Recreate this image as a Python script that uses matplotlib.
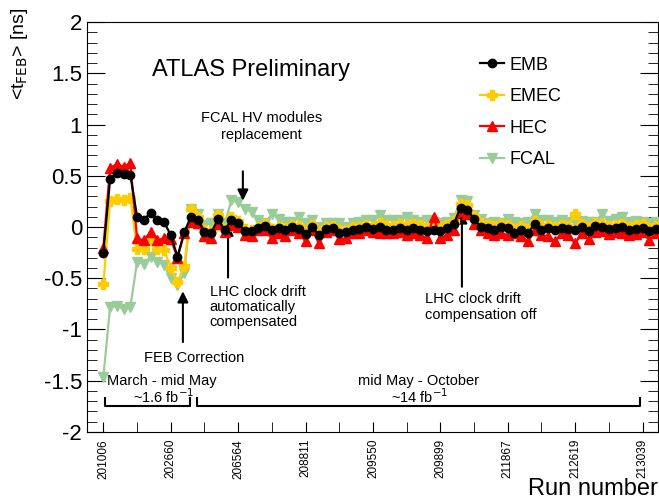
import numpy as np
import matplotlib
matplotlib.use("Agg")
from matplotlib import pyplot as plt

plt.rcParams['font.family'] = ['Liberation Sans', 'DejaVu Sans']

run_labels = ["201006", "202660", "206564", "208811", "209550",
              "209899", "211867", "212619", "213039"]

emb = [-0.25, 0.47, 0.53, 0.52, 0.51, 0.10, 0.07, 0.14, 0.07, 0.05, -0.08, -0.29, -0.05, 0.10,
       0.07, -0.05, -0.06, 0.08, -0.03, 0.07, 0.04, -0.04, -0.04, -0.01, 0.01, -0.03, -0.01, -0.03,
       0.0, -0.02, -0.07, 0.0, -0.08, -0.02, -0.01, -0.06, -0.05, -0.03, -0.02, 0.0, -0.02,
       0.0, -0.03, -0.03, -0.01, -0.03, -0.01, -0.03, -0.04, -0.03, -0.04, -0.01, 0.03,
       0.19, 0.17,
       0.08, 0.0, -0.01, -0.03, 0.0, -0.01, -0.06, -0.03, -0.06, 0.03, -0.03, -0.01, -0.03,
       -0.01, -0.02, -0.03, 0.0, -0.04, 0.01, 0.0, -0.02, -0.01, 0.0, -0.03, -0.02, -0.01, -0.04, -0.02]

emec = [-0.56, 0.25, 0.27, 0.26, 0.28, -0.21, -0.21, -0.13, -0.21, -0.22, -0.40, -0.54, -0.38, 0.18,
        0.10, -0.03, -0.04, 0.12, -0.02, 0.10, 0.06, -0.02, -0.03, 0.0, 0.03, -0.02, 0.0, -0.01,
        0.02, 0.01, -0.04, 0.02, -0.05, 0.0, 0.01, -0.03, -0.03, 0.0, 0.0, 0.02, 0.0,
        0.04, 0.02, 0.01, 0.03, 0.02, 0.03, 0.02, 0.0, 0.02, 0.0, 0.02, 0.06,
        0.22, 0.21,
        0.11, 0.04, 0.02, 0.01, 0.03, 0.02, -0.02, 0.01, -0.02, 0.06, 0.01, 0.02, 0.0,
        0.02, 0.01, 0.13, 0.03, 0.0, 0.04, 0.03, 0.01, 0.02, 0.03, 0.0, 0.02, 0.03, -0.01, 0.01]

hec = [-0.20, 0.58, 0.61, 0.59, 0.62, -0.11, -0.13, -0.05, -0.13, -0.11, -0.12, -0.30, -0.06, 0.05,
       0.04, -0.09, -0.11, 0.03, -0.05, 0.02, 0.0, -0.08, -0.09, -0.03, -0.03, -0.11, -0.06, -0.09,
       -0.03, -0.06, -0.14, -0.03, -0.16, -0.045, -0.03, -0.12, -0.11, -0.06, -0.06, -0.03, -0.045,
       -0.06, -0.06, -0.06, -0.045, -0.08, -0.06, -0.08, -0.11, 0.10, -0.11, -0.08, -0.03,
       0.16, 0.13,
       0.03, -0.03, -0.06, -0.08, -0.06, -0.08, -0.06, -0.09, -0.14, -0.03, -0.08, -0.09, -0.14,
       -0.06, -0.08, -0.16, -0.06, -0.12, -0.05, -0.04, -0.07, -0.05, -0.06, -0.08, -0.07, -0.05, -0.13, -0.06]

fcal = [-1.46, -0.78, -0.77, -0.80, -0.78, -0.34, -0.36, -0.29, -0.34, -0.37, -0.50, -0.57, -0.45, 0.18,
        0.13, 0.02, 0.035, 0.13, 0.035, 0.26, 0.24, 0.18, 0.15, 0.07, 0.035, 0.13, 0.08, 0.05,
        0.05, 0.10, 0.035, 0.07, 0.0, 0.035, 0.035, 0.035, 0.0, 0.035, 0.05, 0.07, 0.07,
        0.12, 0.07, 0.07, 0.07, 0.10, 0.07, 0.05, 0.07, 0.05, 0.035, 0.05, 0.09,
        0.26, 0.25,
        0.12, 0.08, 0.035, 0.05, 0.035, 0.08, 0.05, 0.035, 0.05, 0.13, 0.07, 0.07, 0.05,
        0.07, 0.05, 0.05, 0.06, 0.05, 0.05, 0.13, 0.06, 0.08, 0.10, 0.05, 0.06, 0.05, 0.04, 0.05]

x = np.arange(len(emb))

fig = plt.figure(figsize=(6.59, 5.03), dpi=100)
ax = fig.add_axes([0.132, 0.1412, 0.8665, 0.815])

lw = 1.6
ax.plot(x, fcal, '-v', color='#99cc99', lw=lw, ms=7, label='FCAL', zorder=3)
ax.plot(x, emec, '-P', color='#ffcc00', lw=lw, ms=7, label='EMEC', zorder=4)
ax.plot(x, hec, '-^', color='#ff0000', lw=lw, ms=7, label='HEC', zorder=5)
ax.plot(x, emb, '-o', color='black', lw=lw, ms=6, label='EMB', zorder=6)

ax.set_xlim(-2.43, 82.3)
ax.set_ylim(-2, 2)

ax.set_xticks(np.arange(0, 81, 10))
ax.set_xticklabels(run_labels, rotation=90, fontsize=8.5)
ax.set_xticks(np.arange(0, 82, 5), minor=True)
ax.tick_params(axis='x', which='both', direction='in', length=7, top=False, pad=5)
ax.set_yticks(np.arange(-2, 2.01, 0.5))
ax.set_yticklabels(['-2', '-1.5', '-1', '-0.5', '0', '0.5', '1', '1.5', '2'], fontsize=16)
ax.set_yticks(np.arange(-2, 2.01, 0.1), minor=True)
ax.tick_params(axis='y', which='major', direction='in', length=13, right=True)
ax.tick_params(axis='y', which='minor', direction='in', length=7, right=True)

fig.text(0.998, 1 - 489 / 503, 'Run number', fontsize=17, ha='right', va='center')
fig.text(20 / 659, 1 - 8 / 503, r'<t$_{\mathrm{FEB}}$> [ns]', fontsize=14,
         rotation=90, ha='center', va='top')

handles, labels = ax.get_legend_handles_labels()
order = [3, 1, 2, 0]
ax.legend([handles[i] for i in order], [labels[i] for i in order], frameon=False,
          loc='upper left', bbox_to_anchor=(0.66, 0.955), fontsize=13,
          handlelength=1.3, handletextpad=0.35, labelspacing=0.8)

ax.text(7.2, 1.53, 'ATLAS Preliminary', fontsize=17, va='center')

arrow = dict(arrowstyle='-|>', color='black', lw=1.5, mutation_scale=16)
ax.text(23.5, 0.98, 'FCAL HV modules\nreplacement', fontsize=10.5, ha='center', va='center',
        linespacing=1.2)
ax.annotate('', xy=(20.7, 0.23), xytext=(20.7, 0.57), arrowprops=arrow)

ax.text(15.8, -0.78, 'LHC clock drift\nautomatically\ncompensated', fontsize=10.5,
        ha='left', va='center', linespacing=1.1)
ax.annotate('', xy=(18.5, 0.05), xytext=(18.5, -0.52), arrowprops=arrow)

ax.text(47.7, -0.78, 'LHC clock drift\ncompensation off', fontsize=10.5,
        ha='left', va='center', linespacing=1.2)
ax.annotate('', xy=(53.2, 0.17), xytext=(53.2, -0.61), arrowprops=arrow)

ax.text(13.4, -1.28, 'FEB Correction', fontsize=10.5, ha='center', va='center')
ax.annotate('', xy=(11.8, -0.6), xytext=(11.8, -1.15), arrowprops=arrow)

ax.text(8.7, -1.5, 'March - mid May', fontsize=10.5, ha='center', va='center')
ax.text(8.9, -1.66, r'~1.6 fb$^{-1}$', fontsize=10.5, ha='center', va='center')
ax.text(46.7, -1.5, 'mid May - October', fontsize=10.5, ha='center', va='center')
ax.text(47.0, -1.66, r'~14 fb$^{-1}$', fontsize=10.5, ha='center', va='center')

for x0, x1 in [(0.2, 12.9), (13.9, 79.6)]:
    ax.plot([x0, x0, x1, x1], [-1.67, -1.75, -1.75, -1.67], color='black', lw=1.5)

fig.savefig('out.png', dpi=100)
